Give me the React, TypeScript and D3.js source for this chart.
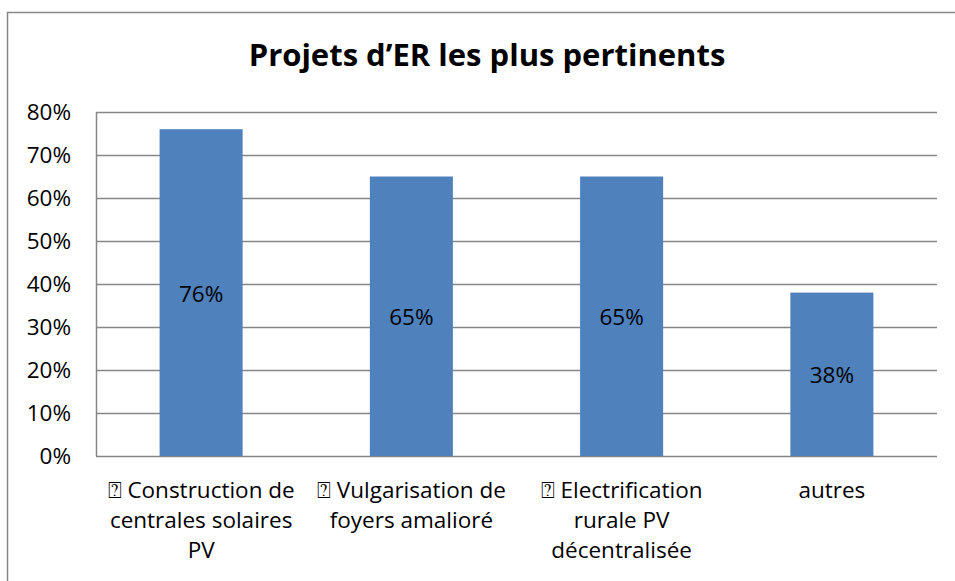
import React from 'react'
import * as d3 from 'd3'

const CATEGORIES = ['construction', 'vulgarisation', 'electrification', 'autres']
const VALUES = [0.76, 0.65, 0.65, 0.38]
const CATEGORY_LABELS = [
  ['\u2370 Construction de', 'centrales solaires', 'PV'],
  ['\u2370 Vulgarisation de', 'foyers amalioré'],
  ['\u2370 Electrification', 'rurale PV', 'décentralisée'],
  ['autres']
]
const Y_TICKS = [0, 0.1, 0.2, 0.3, 0.4, 0.5, 0.6, 0.7, 0.8]
const TITLE = 'Projets d\u2019ER les plus pertinents'

const W = 955
const H = 581
const plot = { left: 96, right: 937, top: 112, bottom: 456 }
const FONT = "'Open Sans', sans-serif"

export default function App() {
  const x = d3.scaleBand<string>()
    .domain(CATEGORIES)
    .range([plot.left, plot.right])
    .paddingInner(0.605)
    .paddingOuter(0.3025)

  const y = d3.scaleLinear()
    .domain([0, 0.8])
    .range([plot.bottom, plot.top])

  const fmt = d3.format('.0%')

  return (
    <div style={{ position: 'absolute', left: 0, top: 0 }}>
      <svg width={W} height={H} style={{ display: 'block', fontFamily: FONT }}>
        <rect x={0} y={0} width={W} height={H} fill="#fff" />
        {/* chart frame, runs off the right/bottom edge */}
        <rect x={7.5} y={12.5} width={970} height={600} fill="none" stroke="#868686" strokeWidth={1.5} />

        <text x={487} y={66} textAnchor="middle" fontSize={31} fontWeight="bold" fill="#000">
          {TITLE}
        </text>

        {/* gridlines */}
        {Y_TICKS.map(t => (
          <line key={t} x1={plot.left} x2={plot.right} y1={Math.round(y(t)) + 0.5} y2={Math.round(y(t)) + 0.5}
            stroke="#868686" strokeWidth={1.5} />
        ))}
        <line x1={plot.left + 0.5} x2={plot.left + 0.5} y1={plot.top} y2={plot.bottom} stroke="#868686" strokeWidth={1.5} />

        {Y_TICKS.map(t => (
          <text key={t} x={71} y={y(t)} dy="0.36em" textAnchor="end" fontSize={22.5} fill="#000">
            {fmt(t)}
          </text>
        ))}

        {/* bars */}
        {CATEGORIES.map((c, i) => (
          <g key={c}>
            <rect x={x(c)} y={y(VALUES[i])} width={x.bandwidth()} height={y(0) - y(VALUES[i])} fill="#4F81BD" />
            <text x={x(c)! + x.bandwidth() / 2} y={(y(VALUES[i]) + y(0)) / 2} dy="0.4em"
              textAnchor="middle" fontSize={22.5} fill="#000">
              {fmt(VALUES[i])}
            </text>
          </g>
        ))}

        {/* category labels */}
        {CATEGORIES.map((c, i) => (
          <text key={c} textAnchor="middle" fontSize={22.5} fill="#000">
            {CATEGORY_LABELS[i].map((line, j) => (
              <tspan key={j} x={x(c)! + x.bandwidth() / 2} y={498 + j * 30}>{line}</tspan>
            ))}
          </text>
        ))}
      </svg>
    </div>
  )
}
